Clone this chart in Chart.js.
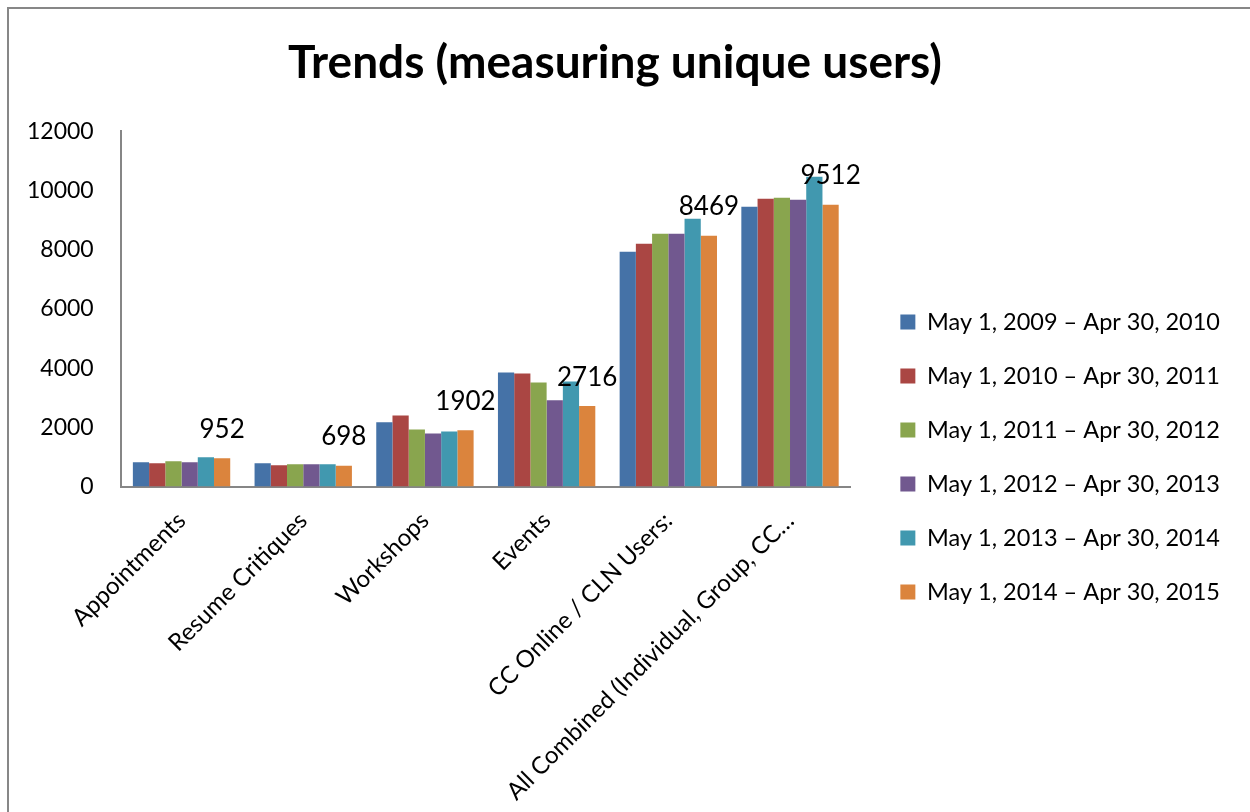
<!DOCTYPE html>
<html>
<head>
    <title>Trends (measuring unique users)</title>
    <meta charset="utf-8">
    <script src="https://cdn.jsdelivr.net/npm/chart.js"></script>
    <style>
        body {
            margin: 0;
            background: #fff;
        }

        #frame {
            position: absolute;
            left: 7px;
            top: 7px;
            width: 1260px;
            height: 820px;
            border-left: 2px solid #878787;
            border-top: 2px solid #878787;
        }

        #chart-container {
            position: absolute;
            left: 0;
            top: 0;
            width: 1250px;
            height: 812px;
        }
    </style>
</head>
<body>
    <div id="frame"></div>
    <div id="chart-container">
        <canvas id="trends" width="1250" height="812"></canvas>
    </div>
    <script>
        // categories and series
        var categories = ['Appointments', 'Resume Critiques', 'Workshops', 'Events',
            'CC Online / CLN Users:', 'All Combined (Individual, Group, CC\u2026'];
        var periods = ['May 1, 2009 \u2013 Apr 30, 2010', 'May 1, 2010 \u2013 Apr 30, 2011',
            'May 1, 2011 \u2013 Apr 30, 2012', 'May 1, 2012 \u2013 Apr 30, 2013',
            'May 1, 2013 \u2013 Apr 30, 2014', 'May 1, 2014 \u2013 Apr 30, 2015'];
        var y2009 = [820, 790, 2170, 3850, 7930, 9450];
        var y2010 = [790, 720, 2400, 3820, 8200, 9720];
        var y2011 = [855, 755, 1930, 3515, 8535, 9750];
        var y2012 = [820, 755, 1790, 2910, 8535, 9685];
        var y2013 = [990, 755, 1860, 3550, 9040, 10460];
        var y2014 = [952, 698, 1902, 2716, 8469, 9512];
        var yTicks = [0, 2000, 4000, 6000, 8000, 10000, 12000];

        var colors = ['#4572a7', '#aa4643', '#89a54e', '#71588f', '#4198af', '#db843d'];
        var series = [y2009, y2010, y2011, y2012, y2013, y2014];

        var datasets = series.map(function (values, i) {
            return {
                label: periods[i],
                data: values,
                backgroundColor: colors[i],
                borderWidth: 0,
                categoryPercentage: 0.8,
                barPercentage: 1.0
            };
        });

        // numbers above the last period's bars
        var lastValueLabels = {
            id: 'lastValueLabels',
            afterDatasetsDraw: function (chart) {
                var ctx = chart.ctx;
                var last = chart.data.datasets.length - 1;
                var meta = chart.getDatasetMeta(last);
                ctx.save();
                ctx.font = '26px Lato';
                ctx.fillStyle = '#000';
                ctx.textAlign = 'center';
                ctx.textBaseline = 'middle';
                meta.data.forEach(function (bar, i) {
                    ctx.fillText(chart.data.datasets[last].data[i], bar.x, bar.y - 29);
                });
                ctx.restore();
            }
        };

        Chart.defaults.font.family = 'Lato';
        Chart.defaults.color = '#000';

        var ctx = document.getElementById('trends').getContext('2d');
        var trendsChart = new Chart(ctx, {
            type: 'bar',
            data: {
                labels: categories,
                datasets: datasets
            },
            options: {
                responsive: false,
                animation: false,
                layout: {
                    padding: { left: 0, right: 20, top: 0, bottom: -14 }
                },
                plugins: {
                    title: {
                        display: true,
                        text: 'Trends (measuring unique users)',
                        font: { size: 46, weight: 'bold' },
                        color: '#000',
                        padding: { top: 36, bottom: 40 }
                    },
                    legend: {
                        position: 'right',
                        maxWidth: 420,
                        // empty title only pushes the items down
                        title: {
                            display: true,
                            text: ' ',
                            font: { size: 10 },
                            padding: { top: 76, bottom: 0 }
                        },
                        labels: {
                            font: { size: 23.5 },
                            boxWidth: 15,
                            boxHeight: 15,
                            padding: 30.5
                        }
                    },
                    tooltip: { enabled: false }
                },
                scales: {
                    x: {
                        grid: { display: false, drawTicks: false },
                        border: { color: '#868686', width: 2 },
                        ticks: {
                            font: { size: 24 },
                            maxRotation: 45,
                            minRotation: 45,
                            padding: 20
                        }
                    },
                    y: {
                        min: 0,
                        max: 12000,
                        afterBuildTicks: function (scale) {
                            scale.ticks = yTicks.map(function (v) { return { value: v }; });
                        },
                        grid: { display: false, drawTicks: false },
                        border: { color: '#868686', width: 2 },
                        ticks: {
                            font: { size: 23 },
                            padding: 27,
                            callback: function (v) { return v; }
                        }
                    },
                    gap: {
                        position: 'right',
                        display: true,
                        grid: { display: false, drawTicks: false },
                        border: { display: false },
                        ticks: { display: false },
                        afterFit: function (scale) { scale.width = 19; }
                    }
                }
            },
            plugins: [lastValueLabels]
        });
    </script>
</body>
</html>
